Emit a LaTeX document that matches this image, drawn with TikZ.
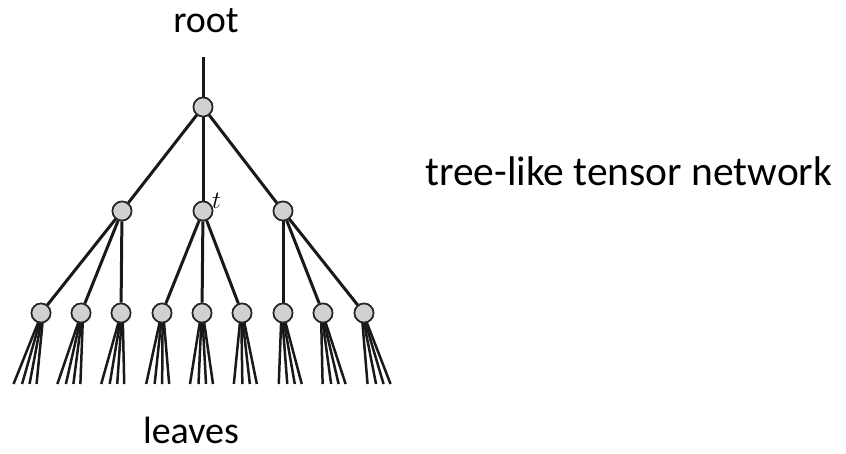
\documentclass[tikz,border=0pt]{standalone}
\usepackage{fontspec}
\setmainfont{Carlito}
\begin{document}
\begin{tikzpicture}[x=1pt,y=-1pt,
  tn/.style={circle,draw=black!85,fill=black!18,line width=1.6pt,minimum size=19pt,inner sep=0pt},
  edge/.style={line width=3pt,black!90},
  leg/.style={line width=2.5pt,black!90},
  lbl/.style={font=\fontsize{38}{40}\selectfont,inner sep=0pt,anchor=base}]
\useasboundingbox (0,0) rectangle (846,453);
% top-level tensor and its open bond
\coordinate (top) at (203,57);
\node[tn] (r) at (203,107) {};
% second level
\node[tn] (m1) at (122,211) {};
\node[tn] (m2) at (203,211) {};
\node[tn] (m3) at (283,211) {};
% third level
\foreach \i/\x in {1/41,2/81,3/121,4/162,5/202,6/242,7/283,8/323,9/364}
  \node[tn] (l\i) at (\x,313) {};
% bonds
\draw[edge] (top) -- (r);
\foreach \m in {m1,m2,m3} \draw[edge] (r) -- (\m);
\foreach \m/\a/\b/\c in {m1/l1/l2/l3,m2/l4/l5/l6,m3/l7/l8/l9} {
  \draw[edge] (\m) -- (\a);
  \draw[edge] (\m) -- (\b);
  \draw[edge] (\m) -- (\c);
}
% open legs at the leaves, fanning out from the bottom of each tensor
\foreach \i/\x in {1/41,2/81,3/121,4/162,5/202,6/242,7/283,8/323,9/364} {
  \pgfmathsetmacro{\s}{0.096*(\x-202)}
  \foreach \d/\o in {-12/-1.8,-3.5/-0.6,4/0.6,11/1.8}
    \draw[leg] (l\i.center) ++(\o,7) -- ({\x+\s+\d},384);
}
% redraw the tensors on top of their bonds
\foreach \n in {r,m1,m2,m3,l1,l2,l3,l4,l5,l6,l7,l8,l9} \node[tn] at (\n) {};
% labels
\node[lbl] (root) at (206,32) {root};
\node[lbl] (leaves) at (191,443) {leaves};
\node[lbl,anchor=base west,font=\fontsize{41.5}{44}\selectfont] (name) at (425,185) {tree-like tensor network};
\node[font=\fontsize{26}{28}\selectfont,inner sep=0pt,anchor=base west] (t) at (212,208) {$t$};
\end{tikzpicture}
\end{document}
